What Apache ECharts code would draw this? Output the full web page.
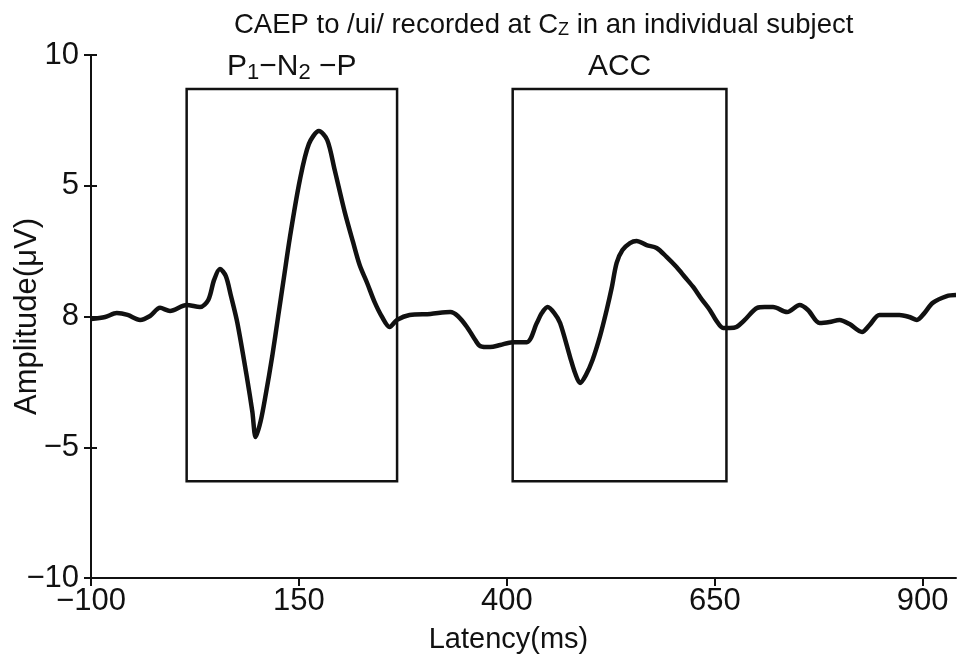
<!DOCTYPE html>
<html>
<head>
<meta charset="utf-8">
<script src="https://cdn.jsdelivr.net/npm/echarts@6/dist/echarts.min.js"></script>
<style>
html,body{margin:0;padding:0;background:#fff;}
#chart{width:958px;height:661px;}
</style>
</head>
<body>
<div id="chart"></div>
<script>
// Latency (ms) and amplitude (µV) samples
var latency = [-100,-83,-69,-56,-41,-29,-17,-5,15,31,41,48,55,62,68,76,88,94,98,104,110,118,125,132,139,151,162,174,184,193,205,215,223,232,241,250,259,268,283,308,332,341,352,362,368,380,392,407,424,436,442,449,457,464,476,482,488,495,503,512,520,526,532,539,548,556,568,580,592,604,614,624,634,644,652,660,668,676,686,701,710,720,737,752,762,776,788,800,812,827,836,848,872,884,893,902,912,929,940];
var amplitude = [-0.10,-0.02,0.13,0.06,-0.13,0.02,0.33,0.21,0.44,0.36,0.63,1.40,1.82,1.55,0.82,-0.25,-2.43,-3.65,-4.61,-4.0,-3.0,-1.5,0.0,1.5,3.0,5.2,6.6,7.09,6.75,5.60,4.0,2.85,1.97,1.28,0.55,-0.02,-0.40,-0.13,0.06,0.10,0.17,0.02,-0.40,-0.90,-1.13,-1.17,-1.09,-0.98,-0.98,-0.25,0.13,0.36,0.13,-0.25,-1.55,-2.16,-2.54,-2.24,-1.66,-0.75,0.25,1.09,2.05,2.54,2.81,2.89,2.73,2.62,2.28,1.89,1.51,1.13,0.67,0.25,-0.17,-0.44,-0.44,-0.40,-0.13,0.33,0.36,0.36,0.17,0.44,0.25,-0.25,-0.21,-0.13,-0.29,-0.59,-0.33,0.06,0.06,-0.02,-0.13,0.13,0.52,0.78,0.82];

// Axis ticks and labels
var xTicks = [-100,150,400,650,900];
var xTickLabels = ['\u2212100','150','400','650','900'];
var yTicks = [-10,-5,0,5,10];
var yTickLabels = ['\u221210','\u22125','8','5','10'];

// Windows (boxes) drawn on the waveform
var boxNames = ['P1-N2-P','ACC'];
var boxStart = [15, 407];
var boxEnd = [268, 664];
var boxTop = 8.7;
var boxBottom = -6.3;

var FONT = 'Liberation Sans, Arial, sans-serif';

function lookup(vals, labels, v){
  for (var i=0;i<vals.length;i++){ if (Math.abs(vals[i]-v) < 1e-6) return labels[i]; }
  return '';
}

var seriesData = latency.map(function(t,i){ return [t, amplitude[i]]; });
var areas = boxNames.map(function(n,i){
  return [{name:n, xAxis: boxStart[i], yAxis: boxTop}, {xAxis: boxEnd[i], yAxis: boxBottom}];
});

var chart = echarts.init(document.getElementById('chart'));
chart.setOption({
  animation: false,
  backgroundColor: '#fff',
  title: {
    text: 'CAEP to /ui/ recorded at C{s|Z} in an individual subject',
    left: 229, top: 6,
    textStyle: {
      fontFamily: FONT, fontSize: 27.5, fontWeight: 'normal', color: '#111',
      rich: {
        s: {fontFamily: FONT, fontSize: 18, color: '#111', lineHeight: 20, verticalAlign: 'bottom'}
      }
    }
  },
  grid: {left: 91, right: 2, top: 55, bottom: 83, containLabel: false, outerBoundsMode: 'none'},
  xAxis: {
    type: 'value', min: -100, max: 940,
    axisLine: {show: true, onZero: false, lineStyle: {color: '#111', width: 2}},
    axisTick: {show: true, length: 8, lineStyle: {color: '#111', width: 2}, customValues: xTicks},
    axisLabel: {
      customValues: xTicks,
      formatter: function(v){ return lookup(xTicks, xTickLabels, v); },
      fontFamily: FONT, fontSize: 31, color: '#111', margin: 8
    },
    splitLine: {show: false},
    name: 'Latency(ms)', nameLocation: 'middle', nameGap: 47, nameMoveOverlap: false,
    nameTextStyle: {fontFamily: FONT, fontSize: 29, color: '#111', padding: [0, 30, 0, 0]}
  },
  yAxis: [{
    type: 'value', min: -10, max: 10,
    axisLine: {show: true, onZero: false, lineStyle: {color: '#111', width: 2}},
    axisTick: {show: true, length: 7, lineStyle: {color: '#111', width: 2}, customValues: yTicks},
    axisLabel: {
      customValues: yTicks,
      formatter: function(v){ return lookup(yTicks, yTickLabels, v); },
      fontFamily: FONT, fontSize: 31, color: '#111', margin: 12
    },
    splitLine: {show: false},
    name: 'Amplitude(\u03bcV)', nameLocation: 'middle', nameGap: 48, nameRotate: 90,
    nameMoveOverlap: false,
    nameTextStyle: {fontFamily: FONT, fontSize: 31, color: '#111'}
  },{
    type: 'value', min: -10, max: 10, position: 'left',
    axisLine: {show: false, onZero: false},
    axisTick: {show: true, inside: true, length: 6, lineStyle: {color: '#111', width: 2}, customValues: yTicks},
    axisLabel: {show: false},
    splitLine: {show: false}
  }],
  series: [{
    type: 'line',
    data: seriesData,
    showSymbol: false,
    smooth: 0.3,
    lineStyle: {color: '#111', width: 4.5},
    markArea: {
      silent: true,
      itemStyle: {color: 'rgba(0,0,0,0)', borderColor: '#111', borderWidth: 2.5},
      label: {
        show: true, position: 'top', distance: 4,
        formatter: function(p){
          if (p.name === 'P1-N2-P') return '{n|P}{s|1}{n|\u2212N}{s|2}{n| \u2212P}';
          return '{n|' + p.name + '}';
        },
        rich: {
          n: {fontFamily: FONT, fontSize: 30, color: '#111', lineHeight: 34},
          s: {fontFamily: FONT, fontSize: 22, color: '#111', lineHeight: 22, verticalAlign: 'bottom'}
        }
      },
      data: areas
    }
  }]
});
</script>
</body>
</html>
